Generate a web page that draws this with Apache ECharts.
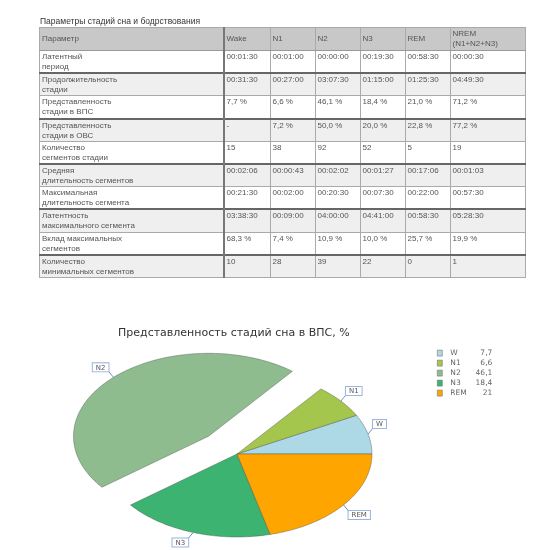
<!DOCTYPE html>
<html>
<head>
<meta charset="utf-8">
<script src="https://cdn.jsdelivr.net/npm/echarts@6/dist/echarts.min.js"></script>
<style>
  html, body { margin:0; padding:0; background:#fff; width:550px; height:550px; overflow:hidden; }
  #chart { position:absolute; left:0; top:0; width:550px; height:550px; z-index:1; }
  #tw { position:absolute; left:39px; top:16px; z-index:2; }
  #ttl { font-family:'Liberation Sans', Arial, sans-serif; font-size:8.5px; color:#333; height:11px; line-height:11px; padding-left:1px; }
  table { border-collapse:collapse; table-layout:fixed; font-family:'Liberation Sans', Arial, sans-serif; font-size:8px; color:#555; border:1.5px solid #aaa; }
  td, th { vertical-align:top; padding:1px 2px 0 2px; line-height:10.1px; border-left:1.5px solid #aaa; border-right:1.5px solid #aaa; overflow:hidden; white-space:pre; text-align:left; font-weight:normal; box-sizing:border-box; }
  th { background:#c8c8c8; height:23px; vertical-align:middle; padding-top:0; border-bottom:1.5px solid #999; }
  td { height:22px; }
  tr.even td { background:#efefef; border-top:2px solid #666; border-bottom:1.5px solid #aaa; }
  td.c0, th.c0 { border-right:2px solid #777; }
</style>
</head>
<body>
<div id="tw"><div id="ttl"></div><table id="tbl"></table></div>
<div id="chart"></div>
<script>
// ---------- table data ----------
const tableTitle = 'Параметры стадий сна и бодрствования';
const tableHeaders = ['Параметр', 'Wake', 'N1', 'N2', 'N3', 'REM', 'NREM\n(N1+N2+N3)'];
const paramNames = [
  'Латентный\nпериод',
  'Продолжительность\nстадии',
  'Представленность\nстадии в ВПС',
  'Представленность\nстадии в ОВС',
  'Количество\nсегментов стадии',
  'Средняя\nдлительность сегментов',
  'Максимальная\nдлительность сегмента',
  'Латентность\nмаксимального сегмента',
  'Вклад максимальных\nсегментов',
  'Количество\nминимальных сегментов'
];
const wakeVals = ['00:01:30', '00:31:30', '7,7 %', '-', '15', '00:02:06', '00:21:30', '03:38:30', '68,3 %', '10'];
const n1Vals   = ['00:01:00', '00:27:00', '6,6 %', '7,2 %', '38', '00:00:43', '00:02:00', '00:09:00', '7,4 %', '28'];
const n2Vals   = ['00:00:00', '03:07:30', '46,1 %', '50,0 %', '92', '00:02:02', '00:20:30', '04:00:00', '10,9 %', '39'];
const n3Vals   = ['00:19:30', '01:15:00', '18,4 %', '20,0 %', '52', '00:01:27', '00:07:30', '04:41:00', '10,0 %', '22'];
const remVals  = ['00:58:30', '01:25:30', '21,0 %', '22,8 %', '5', '00:17:06', '00:22:00', '00:58:30', '25,7 %', '0'];
const nremVals = ['00:00:30', '04:49:30', '71,2 %', '77,2 %', '19', '00:01:03', '00:57:30', '05:28:30', '19,9 %', '1'];

// ---------- pie data ----------
const chartTitle = 'Представленность стадий сна в ВПС, %';
const pieNames = ['W', 'N1', 'N2', 'N3', 'REM'];
const pieValues = [7.7, 6.6, 46.1, 18.4, 21];
const explodedName = 'N2';

// ---------- styles ----------
const pieColors = ['#add8e6', '#a4c64c', '#8fbc8f', '#3cb371', '#ffa500'];
const colWidths = [184, 46.5, 45, 45, 45, 45, 75];

// build table
document.getElementById('ttl').textContent = tableTitle;
(function buildTable() {
  const tbl = document.getElementById('tbl');
  const cg = document.createElement('colgroup');
  colWidths.forEach(w => { const c = document.createElement('col'); c.style.width = w + 'px'; cg.appendChild(c); });
  tbl.appendChild(cg);
  const hr = document.createElement('tr');
  tableHeaders.forEach((h, i) => {
    const th = document.createElement('th');
    th.textContent = h;
    if (i === 0) th.className = 'c0';
    hr.appendChild(th);
  });
  tbl.appendChild(hr);
  const cols = [wakeVals, n1Vals, n2Vals, n3Vals, remVals, nremVals];
  paramNames.forEach((p, r) => {
    const tr = document.createElement('tr');
    if (r % 2 === 1) tr.className = 'even';
    const td0 = document.createElement('td');
    td0.className = 'c0';
    td0.textContent = p;
    tr.appendChild(td0);
    cols.forEach(col => {
      const td = document.createElement('td');
      td.textContent = col[r];
      tr.appendChild(td);
    });
    tbl.appendChild(tr);
  });
})();

// pie geometry (layout)
const CX = 237, CY = 454, RX = 135, RY = 83, EXPLODE = 0.3;
const total = pieValues.reduce((a, b) => a + b, 0);
const fmt = v => String(v).replace('.', ',');

function makeRender(idx) {
  return function (params, api) {
    const before = pieValues.slice(0, idx).reduce((a, b) => a + b, 0);
    const val = api.value(0);
    const a0 = before / total * Math.PI * 2;
    const a1 = a0 + val / total * Math.PI * 2;
    const mid = (a0 + a1) / 2;
    const ex = pieNames[idx] === explodedName ? EXPLODE : 0;
    const ox = CX + ex * RX * Math.cos(mid);
    const oy = CY - ex * RY * Math.sin(mid);
    const pts = [[ox, oy]];
    const n = Math.max(8, Math.ceil((a1 - a0) / (Math.PI / 180)));
    for (let k = 0; k <= n; k++) {
      const a = a0 + (a1 - a0) * k / n;
      pts.push([ox + RX * Math.cos(a), oy - RY * Math.sin(a)]);
    }
    const ax = ox + RX * Math.cos(mid);
    const ay = oy - RY * Math.sin(mid);
    const sx = Math.cos(mid) >= 0 ? 1 : -1;
    const sy = Math.sin(mid) >= 0 ? -1 : 1;
    const bx = ax + sx * 5;
    const by = ay + sy * 6;
    return {
      type: 'group',
      children: [
        { type: 'polygon', shape: { points: pts },
          style: { fill: api.visual('color'), stroke: 'rgba(70,70,70,0.55)', lineWidth: 0.7 } },
        { type: 'line', shape: { x1: ax, y1: ay, x2: bx, y2: by },
          style: { stroke: '#6d8fd0', lineWidth: 1 } },
        { type: 'text', x: bx, y: by,
          style: { text: pieNames[idx], fill: '#555', fontSize: 7, fontFamily: 'DejaVu Sans',
                   backgroundColor: '#fff', borderColor: '#9cb3e0', borderWidth: 1, padding: [1, 3, 0, 3],
                   align: sx > 0 ? 'left' : 'right', verticalAlign: sy > 0 ? 'top' : 'bottom' } }
      ]
    };
  };
}

const chart = echarts.init(document.getElementById('chart'), null, { renderer: 'canvas' });
chart.setOption({
  animation: false,
  color: pieColors,
  title: {
    text: chartTitle, left: 113, top: 323,
    textStyle: { fontSize: 11, fontWeight: 'normal', color: '#333', fontFamily: 'DejaVu Sans' }
  },
  legend: {
    orient: 'vertical', left: 437, top: 349, padding: 0,
    itemWidth: 5, itemHeight: 6, itemGap: 1.8, icon: 'rect',
    itemStyle: { borderColor: '#777', borderWidth: 0.6 },
    data: pieNames,
    formatter: name => '{n|' + name + '}{v|' + fmt(pieValues[pieNames.indexOf(name)]) + '}',
    textStyle: {
      fontSize: 7.5, color: '#666', fontFamily: 'DejaVu Sans', lineHeight: 8.2,
      rich: {
        n: { width: 14, padding: [0, 0, 0, 3], fontSize: 7.5, color: '#666', fontFamily: 'DejaVu Sans', lineHeight: 8.2 },
        v: { width: 28, align: 'right', fontSize: 7.5, color: '#666', fontFamily: 'DejaVu Sans', lineHeight: 8.2 }
      }
    }
  },
  series: pieNames.map((nm, i) => ({
    type: 'custom',
    name: nm,
    coordinateSystem: 'none',
    data: [[pieValues[i]]],
    renderItem: makeRender(i)
  }))
});
</script>
</body>
</html>
